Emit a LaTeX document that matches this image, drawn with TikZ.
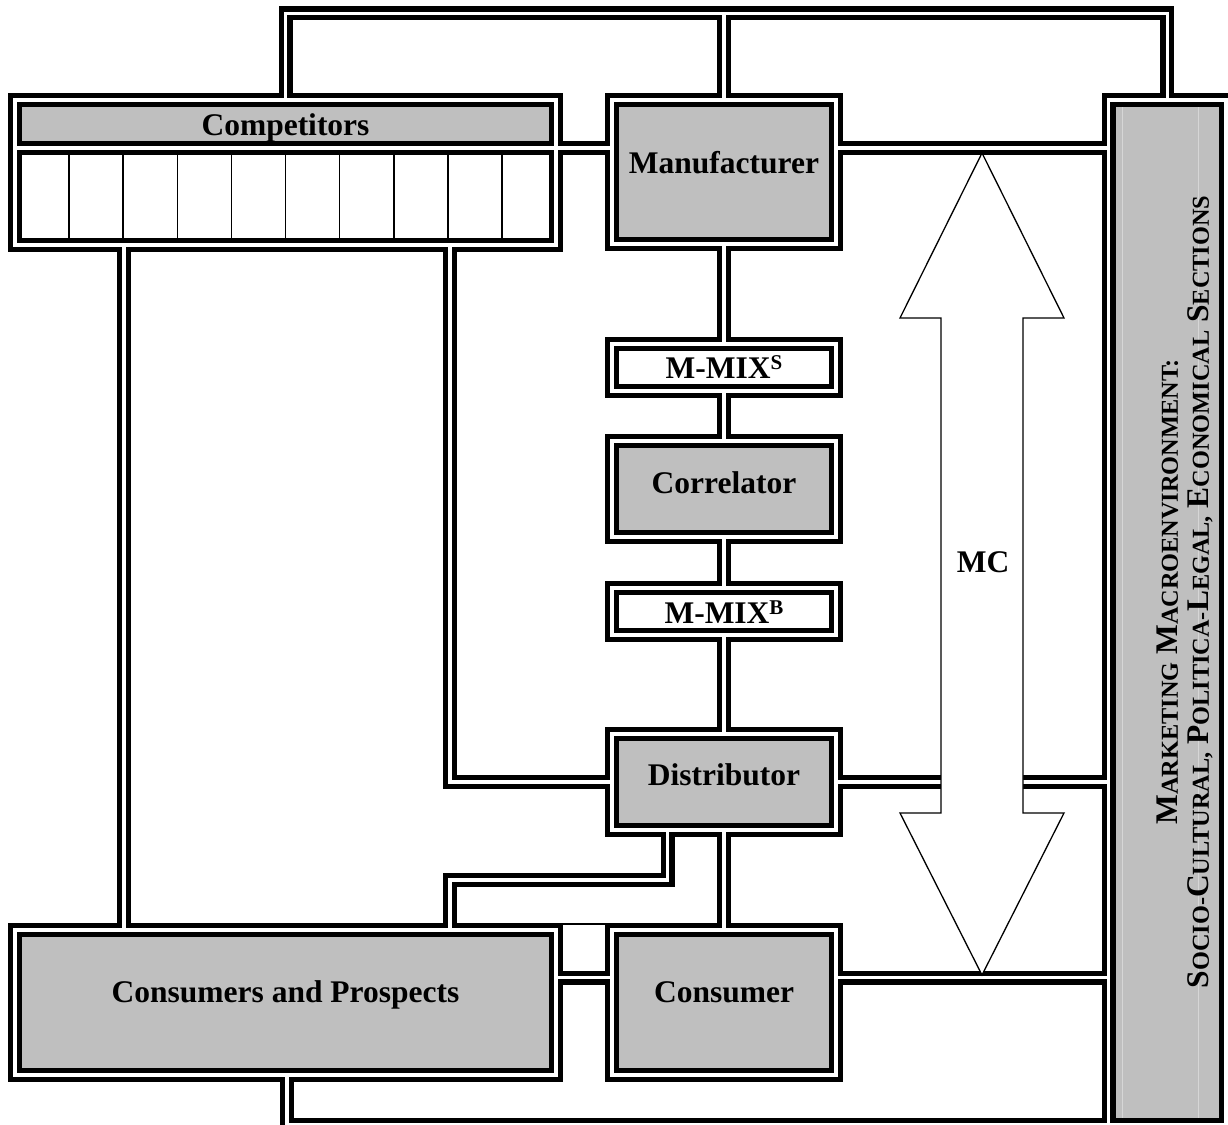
\documentclass[tikz,border=0pt]{standalone}
\usepackage{fontspec}
\setmainfont{Liberation Serif}
\definecolor{boxgray}{RGB}{191,191,191}
\definecolor{lightline}{RGB}{214,214,214}
\newcommand\bigsc[2]{#1{\fontsize{24.3}{24.3}\selectfont #2}}
\newcommand\supr[1]{\raisebox{8.5pt}{\fontsize{21}{21}\selectfont #1}}
\begin{document}
\begin{tikzpicture}[x=1pt,y=-1pt,font=\fontsize{31.5}{36}\selectfont\bfseries]
\tikzset{
  pipeblack/.style={line width=14pt,black,line join=miter,line cap=butt},
  pipewhite/.style={line width=3.5pt,white,line join=miter,line cap=butt},
  box/.style={rectangle,inner sep=0pt,outer sep=0pt,draw=none,fill=boxgray},
  wbox/.style={box,fill=white},
  lbl/.style={anchor=base,inner sep=0pt},
  thinline/.style={line width=1.6pt,black},
  mcarrow/.style={line width=1.3pt,black,fill=white,line join=miter}
}
\useasboundingbox (0,0) rectangle (1228,1124);
\clip (0,0) rectangle (1228,1124);
% boxes (pipe centre lines are the node borders)
\node[box, minimum width=541pt,minimum height=48pt] (comphead) at (285.5,124) {};
\node[wbox,minimum width=541pt,minimum height=97pt] (compcells) at (285.5,196.5) {};
\node[box, minimum width=224pt,minimum height=144pt] (man) at (724,172) {};
\node[wbox,minimum width=224pt,minimum height=47pt] (mms) at (724,367.5) {};
\node[box, minimum width=224pt,minimum height=96pt] (cor) at (724,489) {};
\node[wbox,minimum width=224pt,minimum height=47pt] (mmb) at (724,611.5) {};
\node[box, minimum width=224pt,minimum height=96pt] (dis) at (724,782) {};
\node[box, minimum width=224pt,minimum height=145pt] (con) at (724,1002.5) {};
\node[box, minimum width=541pt,minimum height=145pt] (cap) at (285.5,1002.5) {};
\node[box, minimum width=117.5pt,minimum height=1025pt] (macro) at (1167.25,612.5) {};
\draw[lightline,line width=1pt] ([xshift=14pt,yshift=-7pt]macro.north west) -- ([xshift=14pt,yshift=7pt]macro.south west);
\draw[lightline,line width=1pt] ([xshift=-28pt,yshift=-7pt]macro.north east) -- ([xshift=-28pt,yshift=7pt]macro.south east);
% helper coordinates
\coordinate (ytop) at (700,13.5);
\coordinate (lx) at (124,0);
\coordinate (rx) at (450,0);
\coordinate (dx) at (667.5,880);
\coordinate (bx) at (287,0);
\coordinate (conr) at ([yshift=25pt]con.east);
% cell dividers
\foreach \i in {1,...,9}
  \draw[thinline] ([xshift=\i*54.1pt]compcells.north west) -- ([xshift=\i*54.1pt]compcells.south west);
\draw[thinline] ([yshift=6pt]cap.north east) -- ([yshift=6pt]con.north west);
% all pipes
\newcommand\allpipes{%
  \draw[pipe] (comphead.north west) rectangle (compcells.south east);
  \draw[pipe] (comphead.south west) -- (comphead.south west -| man.west);
  \draw[pipe] (man.north west) rectangle (man.south east);
  \draw[pipe] (mms.north west) rectangle (mms.south east);
  \draw[pipe] (cor.north west) rectangle (cor.south east);
  \draw[pipe] (mmb.north west) rectangle (mmb.south east);
  \draw[pipe] (dis.north west) rectangle (dis.south east);
  \draw[pipe] (con.north west) rectangle (con.south east);
  \draw[pipe] (cap.north west) rectangle (cap.south east);
  \draw[pipe] (macro.north west) rectangle (macro.south east);
  \draw[pipe] (comphead.north) |- (ytop) -| (macro.north);
  \draw[pipe] (man.north) -- (man.north |- ytop);
  \draw[pipe] (man.east |- comphead.south) -- (macro.west |- comphead.south);
  \draw[pipe] (man.south) -- (mms.north);
  \draw[pipe] (mms.south) -- (cor.north);
  \draw[pipe] (cor.south) -- (mmb.north);
  \draw[pipe] (mmb.south) -- (dis.north);
  \draw[pipe] (dis.south) -- (con.north);
  \draw[pipe] (dis.east) -- (macro.west |- dis.east);
  \draw[pipe] (conr) -- (conr -| macro.west);
  \draw[pipe] (conr -| cap.east) -- (conr -| con.west);
  \draw[pipe] (lx |- compcells.south) -- (lx |- cap.north);
  \draw[pipe] (rx |- compcells.south) |- (dis.west);
  \draw[pipe] (dx |- dis.south) -- (dx) -| (rx |- cap.north);
  \draw[pipe] (bx |- cap.south) |- (macro.south west);
}
\tikzset{pipe/.style=pipeblack}
\allpipes
\tikzset{pipe/.style=pipewhite}
\allpipes
% MC double arrow
\draw[mcarrow] (982,153) -- (1064,318) -- (1023,318) -- (1023,813) -- (1064,813) -- (982,975)
  -- (900,813) -- (941,813) -- (941,318) -- (900,318) -- cycle;
% labels
\node[lbl] (tcomp) at (285.5,135) {Competitors};
\node[lbl] (tman) at (724,173) {Manufacturer};
\node[lbl] (tmms) at (724,378) {M-MIX\supr{S}};
\node[lbl] (tcor) at (724,493) {Correlator};
\node[lbl] (tmmb) at (724,623) {M-MIX\supr{B}};
\node[lbl] (tdis) at (724,785) {Distributor};
\node[lbl] (tcon) at (724,1002) {Consumer};
\node[lbl] (tcap) at (285.5,1002) {Consumers and Prospects};
\node[lbl] (tmc) at (983,572) {MC};
\node[rotate=90,align=center,inner sep=0pt,font=\fontsize{31.5}{31}\selectfont\bfseries] (tmacro) at (1185,592)
  {\bigsc{M}{ARKETING} \bigsc{M}{ACROENVIRONMENT:}\\\bigsc{S}{OCIO-}\bigsc{C}{ULTURAL,} \bigsc{P}{OLITICA-}\bigsc{L}{EGAL,} \bigsc{E}{CONOMICAL} \bigsc{S}{ECTIONS}};
\end{tikzpicture}
\end{document}
